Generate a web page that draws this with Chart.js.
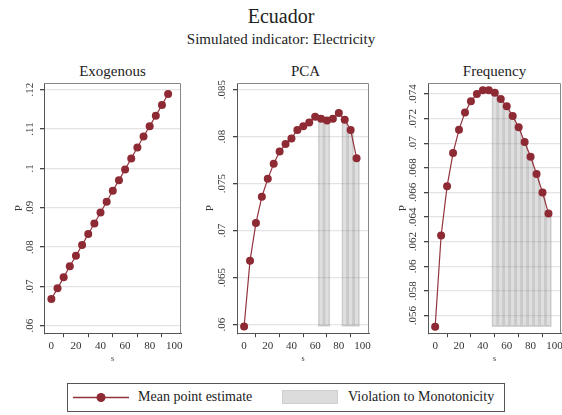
<!DOCTYPE html>
<html>
<head>
<meta charset="utf-8">
<script src="https://cdn.jsdelivr.net/npm/chart.js@4.4.0/dist/chart.umd.min.js"></script>
<style>
  body { margin: 0; background: #fff; overflow: hidden; font-family: "Liberation Serif", serif; color: #222; }
  #wrap { position: relative; width: 562px; height: 415px; }
  .ttl { position: absolute; left: 0; width: 562px; text-align: center; white-space: nowrap; }
  .ptitle { position: absolute; text-align: center; font-size: 15px; top: 63px; }
  .panel { position: absolute; top: 60px; height: 312px; }
  #legend { position: absolute; left: 67px; top: 383px; width: 438px; height: 29px; border: 1px solid #555; box-sizing: border-box; font-size: 14px; }
  #legend span { position: absolute; top: 5px; }
</style>
</head>
<body>
<div id="wrap">
  <div class="ttl" style="top:5px;font-size:20px;">Ecuador</div>
  <div class="ttl" style="top:31px;font-size:15px;">Simulated indicator: Electricity</div>

  <div class="ptitle" style="left:44px;width:137px;">Exogenous</div>
  <div class="ptitle" style="left:237px;width:137px;">PCA</div>
  <div class="ptitle" style="left:428px;width:133px;">Frequency</div>

  <div class="panel" style="left:0;width:190px;"><canvas id="exo"></canvas></div>
  <div class="panel" style="left:190px;width:188px;"><canvas id="pca"></canvas></div>
  <div class="panel" style="left:378px;width:192px;"><canvas id="freq"></canvas></div>

  <div id="legend">
    <svg width="70" height="27" style="position:absolute;left:4px;top:0;">
      <line x1="1" y1="13.5" x2="57" y2="13.5" stroke="#93343e" stroke-width="1.3"/>
      <circle cx="29" cy="13.5" r="4.5" fill="#8e2a34"/>
    </svg>
    <span style="left:70px;">Mean point estimate</span>
    <div style="position:absolute;left:214px;top:6px;width:56px;height:14px;background:#dcdcdc;border:1px solid #cfcfcf;box-sizing:border-box;"></div>
    <span style="left:280px;">Violation to Monotonicity</span>
  </div>
</div>

<script>
// s grid shared by all three panels
const sValues = [0, 5, 10, 15, 20, 25, 30, 35, 40, 45, 50, 55, 60, 65, 70, 75, 80, 85, 90, 95];
const xTicks = [0, 20, 40, 60, 80, 100];

const exoValues = [0.0668, 0.0695, 0.0723, 0.0751, 0.0778, 0.0805, 0.0833, 0.0860, 0.0888, 0.0915,
                   0.0943, 0.0970, 0.0997, 0.1025, 0.1053, 0.1081, 0.1107, 0.1134, 0.1161, 0.1189];
const pcaValues = [0.0598, 0.0668, 0.0708, 0.0736, 0.0755, 0.0771, 0.0784, 0.0792, 0.0798, 0.0807,
                   0.0811, 0.0815, 0.0821, 0.0819, 0.0817, 0.0819, 0.0825, 0.0818, 0.0807, 0.0777];
const freqValues = [0.0551, 0.0625, 0.0665, 0.0692, 0.0711, 0.0725, 0.0734, 0.0740, 0.0743, 0.0743,
                    0.0741, 0.0736, 0.0730, 0.0722, 0.0713, 0.0701, 0.0689, 0.0675, 0.0660, 0.0643];

// s values flagged as violating monotonicity
const exoViolations = [];
const pcaViolations = [65, 70, 85, 90, 95];
const freqViolations = [50, 55, 60, 65, 70, 75, 80, 85, 90, 95];

const exoTicks = [0.06, 0.07, 0.08, 0.09, 0.1, 0.11, 0.12];
const pcaTicks = [0.06, 0.065, 0.07, 0.075, 0.08, 0.085];
const freqTicks = [0.056, 0.058, 0.06, 0.062, 0.064, 0.066, 0.068, 0.07, 0.072, 0.074];

const lineColor = '#8e2a34';
const serif = '"Liberation Serif", serif';

function stataLabel(v) {
    return String(v).replace(/^0\./, '.');
}

// rotated y tick labels + top/right frame like the stata plot region
const panelPlugin = {
    id: 'panelDecor',
    afterDraw(chart, args, opts) {
        const ctx = chart.ctx;
        const a = chart.chartArea;
        const y = chart.scales.y;
        ctx.save();
        ctx.strokeStyle = '#888';
        ctx.lineWidth = 1;
        ctx.beginPath();
        ctx.moveTo(a.left, a.top + 0.5);
        ctx.lineTo(a.right - 0.5, a.top + 0.5);
        ctx.lineTo(a.right - 0.5, a.bottom);
        ctx.stroke();
        ctx.fillStyle = '#333';
        ctx.font = '11px ' + serif;
        ctx.textAlign = 'center';
        ctx.textBaseline = 'middle';
        y.ticks.forEach(function (t) {
            const py = y.getPixelForValue(t.value);
            ctx.save();
            ctx.translate(a.left - opts.labelGap, py);
            ctx.rotate(-Math.PI / 2);
            ctx.fillText(stataLabel(t.value), 0, 0);
            ctx.restore();
        });
        ctx.restore();
    }
};

function makePanel(id, values, violations, yTicks, yMin, yMax, yTitlePad, labelGap) {
    const base = Math.min.apply(null, values);
    const bars = violations.map(function (s) {
        return { x: s, y: [base, values[sValues.indexOf(s)]] };
    });
    const ctx = document.getElementById(id).getContext('2d');
    return new Chart(ctx, {
        type: 'line',
        data: {
            datasets: [{
                type: 'line',
                label: 'Mean point estimate',
                data: sValues.map(function (s, i) { return { x: s, y: values[i] }; }),
                borderColor: '#93343e',
                backgroundColor: lineColor,
                borderWidth: 1.2,
                pointRadius: 4,
                pointBorderWidth: 0,
                pointBackgroundColor: lineColor,
                tension: 0,
                order: 0
            }, {
                type: 'bar',
                label: 'Violation to Monotonicity',
                data: bars,
                backgroundColor: 'rgba(150, 150, 150, 0.3)',
                borderColor: 'rgba(120, 120, 120, 0.3)',
                borderWidth: 1,
                borderSkipped: false,
                barPercentage: 1,
                categoryPercentage: 1,
                order: 1
            }]
        },
        options: {
            responsive: true,
            maintainAspectRatio: false,
            animation: false,
            layout: { padding: { top: 23, left: 0, right: 9, bottom: 6 } },
            plugins: {
                legend: { display: false },
                tooltip: { enabled: false },
                panelDecor: { labelGap: labelGap }
            },
            scales: {
                x: {
                    type: 'linear',
                    min: -6,
                    max: 105.5,
                    offset: false,
                    afterBuildTicks: function (scale) {
                        scale.ticks = xTicks.map(function (v) { return { value: v }; });
                    },
                    grid: { drawOnChartArea: false, drawTicks: true, tickLength: 4, tickColor: '#444' },
                    border: { color: '#555', width: 1 },
                    ticks: { color: '#333', padding: 2, maxRotation: 0, font: { family: serif, size: 11 } },
                    title: { display: true, text: 's', color: '#333', padding: { top: 0, bottom: 2 }, font: { family: serif, size: 8 } }
                },
                y: {
                    min: yMin,
                    max: yMax,
                    afterBuildTicks: function (scale) {
                        scale.ticks = yTicks.map(function (v) { return { value: v }; });
                    },
                    grid: { color: '#e4e4e4', lineWidth: 1.3, drawTicks: true, tickLength: 4, tickColor: '#444' },
                    border: { color: '#555', width: 1 },
                    ticks: { display: false },
                    title: { display: true, text: 'P', color: '#333', padding: yTitlePad, font: { family: serif, size: 11 } }
                }
            }
        },
        plugins: [panelPlugin]
    });
}

makePanel('exo', exoValues, exoViolations, exoTicks, 0.0581, 0.1217, { top: 12.4, bottom: 14.4 }, 14);
makePanel('pca', pcaValues, pcaViolations, pcaTicks, 0.05908, 0.0857, { top: 13.4, bottom: 16.4 }, 15);
makePanel('freq', freqValues, freqViolations, freqTicks, 0.05457, 0.07489, { top: 18.4, bottom: 14.4 }, 15);
</script>
</body>
</html>
